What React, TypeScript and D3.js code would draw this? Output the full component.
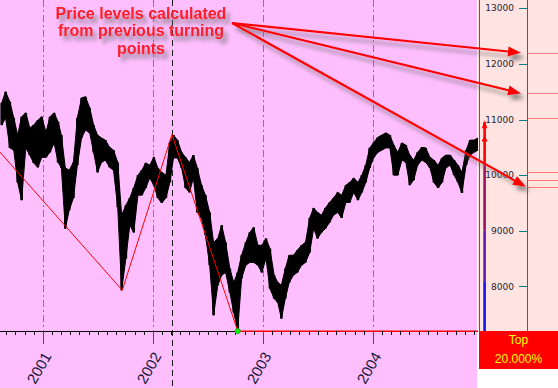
import * as d3 from "d3";
import React, { useEffect } from "react";

// bars, roughly two weeks each: high / low
const barDates = [
  "2000-08-17", "2000-08-30", "2000-09-13", "2000-09-26", "2000-10-09", "2000-10-22", "2000-11-05", "2000-11-18",
  "2000-12-01", "2000-12-15", "2000-12-28", "2001-01-11", "2001-01-24", "2001-02-07", "2001-02-20", "2001-03-03",
  "2001-03-16", "2001-03-29", "2001-04-12", "2001-04-25", "2001-05-09", "2001-05-22", "2001-06-05", "2001-06-18",
  "2001-07-01", "2001-07-14", "2001-07-27", "2001-08-10", "2001-08-23", "2001-09-06", "2001-09-19", "2001-10-03",
  "2001-10-16", "2001-10-29", "2001-11-12", "2001-11-25", "2001-12-08", "2001-12-21", "2002-01-04", "2002-01-17",
  "2002-01-30", "2002-02-13", "2002-02-26", "2002-03-10", "2002-03-23", "2002-04-06", "2002-04-19", "2002-05-02",
  "2002-05-15", "2002-05-28", "2002-06-11", "2002-06-24", "2002-07-08", "2002-07-21", "2002-08-04", "2002-08-17",
  "2002-08-30", "2002-09-13", "2002-09-26", "2002-10-09", "2002-10-22", "2002-11-05", "2002-11-18", "2002-12-01",
  "2002-12-15", "2002-12-28", "2003-01-11", "2003-01-24", "2003-02-07", "2003-02-19", "2003-03-03", "2003-03-16",
  "2003-03-29", "2003-04-12", "2003-04-25", "2003-05-09", "2003-05-22", "2003-06-05", "2003-06-18", "2003-07-01",
  "2003-07-14", "2003-07-27", "2003-08-10", "2003-08-23", "2003-09-06", "2003-09-19", "2003-10-03", "2003-10-16",
  "2003-10-29", "2003-11-12", "2003-11-25", "2003-12-08", "2003-12-21", "2004-01-04", "2004-01-17", "2004-01-30",
  "2004-02-13", "2004-02-26", "2004-03-10", "2004-03-23", "2004-04-06", "2004-04-19", "2004-05-02", "2004-05-15",
  "2004-05-28", "2004-06-11", "2004-06-24", "2004-07-08", "2004-07-21", "2004-08-04", "2004-08-17", "2004-08-30",
  "2004-09-13", "2004-09-26", "2004-10-09", "2004-10-22", "2004-11-05", "2004-11-18", "2004-12-01", "2004-12-15",
];
const barHighs = [
  11300, 11500, 11320, 11030, 10720, 11050, 11120, 10850, 10900, 10990, 11050, 10770, 11050, 11120, 10960, 10720,
  10130, 10090, 10230, 11030, 11390, 11410, 11210, 10900, 10720, 10670, 10630, 10500, 10450, 10230, 9280, 9460,
  9590, 9770, 10000, 10090, 10220, 10180, 10320, 10130, 10050, 10000, 10590, 10720, 10630, 10410, 10320, 10230,
  10360, 10130, 9820, 9640, 9330, 8790, 8860, 9100, 8790, 8320, 8070, 8250, 8560, 8790, 8970, 9060,
  8740, 8740, 8860, 8680, 8200, 8070, 8020, 8320, 8560, 8560, 8650, 8740, 8790, 9230, 9410, 9330,
  9280, 9410, 9510, 9590, 9690, 9640, 9820, 9870, 9950, 9870, 10000, 10180, 10490, 10590, 10680, 10720,
  10760, 10720, 10540, 10410, 10580, 10540, 10360, 10270, 10410, 10500, 10490, 10320, 10270, 10180, 10310, 10360,
  10360, 10270, 10180, 10050, 10450, 10630, 10630, 10670,
];
const barLows = [
  10900, 11030, 10490, 10450, 9870, 9550, 10490, 10360, 10220, 10140, 10320, 10320, 10410, 10580, 10230, 10130,
  9040, 9370, 9590, 10180, 10670, 10810, 10760, 10410, 10050, 10230, 10270, 10140, 10090, 9420, 7930, 8500,
  9100, 8970, 9640, 9640, 9770, 9950, 9820, 9590, 9500, 9590, 9870, 10310, 10310, 10130, 9770, 9690,
  9950, 9330, 9230, 8920, 8380, 7480, 8020, 8200, 8250, 7890, 7530, 7210, 8140, 8380, 8430, 8430,
  8380, 8250, 8500, 7960, 7780, 7710, 7420, 7780, 8070, 8200, 8250, 8380, 8430, 8610, 9040, 8860,
  8970, 9040, 9150, 9280, 9330, 9230, 9510, 9510, 9690, 9550, 9690, 9870, 10130, 10320, 10410, 10450,
  10490, 10490, 10000, 10000, 10270, 10230, 9820, 9910, 10180, 10270, 10230, 10130, 9870, 9770, 9870, 10130,
  10180, 10000, 9870, 9680, 10180, 10360, 10410, 10450,
];

// 20% swing turning points
const pivotDates = ["2000-01-14", "2001-09-21", "2002-03-05", "2002-10-09", "2004-12-20"];
const pivotPrices = [11700, 7930, 10730, 7197, 7197];

const levelPrices = [12200, 11470, 11020, 10060, 9910, 9790];
const arrowLevels = [12200, 11470, 9790];
const yTicks = [8000, 9000, 10000, 11000, 12000, 13000];
const years = [2001, 2002, 2003, 2004];
const meterPrices = [10950, 10200, 9000, 8080, 7197];
const meterColors = ["#ff0000", "#a0105c", "#6018b0", "#1a10e8"];
const noteLines = ["Price levels calculated", "from previous turning", "points"];
const boxLines = ["Top", "20.000%"];

const W = 558, H = 388;
const plotR = 478, axisY = 331;
const panelL = 479, panelAxis = 527;

const parse = d3.timeParse("%Y-%m-%d");

export default function App() {
  useEffect(() => {
    document.body.style.margin = "0";
  }, []);

  const x = d3
    .scaleTime()
    .domain([new Date(2001, 0, 1), new Date(2004, 0, 1)])
    .range([43, 373]);
  const y = d3.scaleLinear().domain([7197, 13150]).range([axisY, 0]);

  const bars = barDates.map((d, i) => ({ date: parse(d), hi: barHighs[i], lo: barLows[i] }));
  const area = d3
    .area<any>()
    .x((d) => x(d.date))
    .y0((d) => y(d.lo))
    .y1((d) => y(d.hi));

  const pivots = pivotDates.map((d, i) => ({ date: parse(d), p: pivotPrices[i] }));
  const zig = d3
    .line<any>()
    .x((d) => x(d.date))
    .y((d) => y(d.p));

  const start = x.invert(0), end = x.invert(plotR);
  const months = d3.timeMonth.range(start, end);
  const pivotX = Math.round(x(pivots[2].date)) + 0.5;
  const lowPt = pivots[3];

  const noteX = 141, noteY = 18.5, noteStep = 17.6;
  const arrowFrom = [232, 23];
  const arrowTips = arrowLevels.map((p, i) => [i == 2 ? 526 : 521, y(p)]);

  const arrowHead = (x1, y1, x2, y2, len = 13, half = 5) => {
    const a = Math.atan2(y2 - y1, x2 - x1);
    const bx = x2 - len * Math.cos(a), by = y2 - len * Math.sin(a);
    const nx = -Math.sin(a) * half, ny = Math.cos(a) * half;
    return `M${x2},${y2}L${bx + nx},${by + ny}L${bx - nx},${by - ny}Z`;
  };

  return (
    <div style={{ position: "absolute", left: 0, top: 0 }}>
      <svg width={W} height={H} style={{ display: "block" }}>
        <defs>
          <clipPath id="plot">
            <rect x={0} y={0} width={plotR} height={axisY + 1} />
          </clipPath>
          <filter id="shadow" x="-10%" y="-20%" width="130%" height="160%">
            <feDropShadow dx={4} dy={5} stdDeviation={2} floodColor="#6a6a6a" floodOpacity={0.75} />
          </filter>
        </defs>

        <rect x={0} y={0} width={W} height={H} fill="#ffffff" />
        <rect x={0} y={0} width={plotR - 1} height={H} fill="#ffbfff" />
        <rect x={plotR} y={0} width={W - plotR} height={axisY} fill="#ffe4e1" />

        {/* year grid */}
        {years.map((yr) => (
          <line key={yr} x1={Math.round(x(new Date(yr, 0, 1))) + 0.5} x2={Math.round(x(new Date(yr, 0, 1))) + 0.5}
            y1={0} y2={axisY} stroke="#808080" strokeDasharray="7,3,2,3" />
        ))}
        <line x1={pivotX} x2={pivotX} y1={0} y2={H} stroke="#1a1a1a" strokeDasharray="6,4" />

        <g clipPath="url(#plot)">
          <path d={area(bars)} fill="#000" stroke="#000" strokeWidth={1} />
          {bars.map((b, i) => (
            <rect key={i} x={x(b.date) - 1.3} y={y(b.hi)} width={2.6} height={y(b.lo) - y(b.hi)} fill="#000" />
          ))}
          <path d={zig(pivots)} fill="none" stroke="#ff0000" strokeWidth={1} />
        </g>

        {/* x axis */}
        <line x1={0} x2={x(lowPt.date)} y1={axisY + 0.5} y2={axisY + 0.5} stroke="#000" />
        <line x1={x(lowPt.date)} x2={plotR} y1={axisY + 0.5} y2={axisY + 0.5} stroke="#ff0000" />
        {months.map((m, i) =>
          m.getMonth() === 0 ? (
            <line key={i} x1={Math.round(x(m)) + 0.5} x2={Math.round(x(m)) + 0.5} y1={axisY} y2={axisY + 13} stroke="#ff0000" />
          ) : (
            <line key={i} x1={Math.round(x(m)) + 0.5} x2={Math.round(x(m)) + 0.5} y1={axisY} y2={axisY + 4} stroke="#000" />
          )
        )}
        <circle cx={x(lowPt.date)} cy={y(lowPt.p)} r={2.6} fill="#00ff00" stroke="#20a020" strokeWidth={0.8} />
        {years.map((yr) => (
          <text key={yr} transform={`translate(${x(new Date(yr, 0, 1)) + 9},${axisY + 25}) rotate(-60)`}
            textAnchor="end" fontFamily="Liberation Sans, Arial, sans-serif" fontSize={15} fill="#141438">
            {yr}
          </text>
        ))}

        {/* right price panel */}
        <line x1={panelL + 0.5} x2={panelL + 0.5} y1={0} y2={axisY} stroke="#008080" />
        <line x1={panelAxis + 0.5} x2={panelAxis + 0.5} y1={0} y2={axisY} stroke="#008080" />
        {yTicks.map((t) => (
          <g key={t}>
            <line x1={panelAxis - 8} x2={panelAxis} y1={Math.round(y(t)) + 0.5} y2={Math.round(y(t)) + 0.5} stroke="#008080" />
            <text x={514} y={y(t)} dy="0.35em" textAnchor="end" fontFamily="DejaVu Sans, sans-serif" fontSize={9} fill="#1c1c30">
              {t}
            </text>
          </g>
        ))}
        {levelPrices.map((p) => (
          <line key={p} x1={panelAxis + 1} x2={W} y1={Math.round(y(p)) + 0.5} y2={Math.round(y(p)) + 0.5} stroke="#ff7a7a" />
        ))}
        {meterColors.map((c, i) => (
          <rect key={c} x={483.3} y={y(meterPrices[i])} width={2.6} height={y(meterPrices[i + 1]) - y(meterPrices[i])} fill={c} />
        ))}
        <path d={`M484.6,${y(meterPrices[0]) - 2}L481.8,${y(meterPrices[0]) + 6}L487.4,${y(meterPrices[0]) + 6}Z`} fill="#ff0000" />
        <path d={`M484.6,${y(10640) - 4}L481.5,${y(10640) + 2}L487.7,${y(10640) + 2}Z`} fill="#ff0000" />

        <rect x={panelL} y={axisY} width={W - panelL} height={38} fill="#ff0000" />
        {boxLines.map((s, i) => (
          <text key={s} x={(panelL + W) / 2} y={axisY + 13 + i * 18.5} textAnchor="middle"
            fontFamily="Liberation Sans, Arial, sans-serif" fontSize={12} fill="#ffff00">
            {s}
          </text>
        ))}

        {/* annotation */}
        <g filter="url(#shadow)">
          {noteLines.map((s, i) => (
            <text key={s} x={noteX} y={noteY + i * noteStep} textAnchor="middle"
              fontFamily="Liberation Sans, Arial, sans-serif" fontWeight="bold" fontSize={16} fill="#ff1a26">
              {s}
            </text>
          ))}
          {arrowTips.map(([tx, ty], i) => (
            <g key={i}>
              <line x1={arrowFrom[0]} y1={arrowFrom[1]} x2={tx - 8 * Math.cos(Math.atan2(ty - arrowFrom[1], tx - arrowFrom[0]))}
                y2={ty - 8 * Math.sin(Math.atan2(ty - arrowFrom[1], tx - arrowFrom[0]))} stroke="#ff0000" strokeWidth={2.2} />
              <path d={arrowHead(arrowFrom[0], arrowFrom[1], tx, ty)} fill="#ff0000" />
            </g>
          ))}
        </g>
      </svg>
    </div>
  );
}
